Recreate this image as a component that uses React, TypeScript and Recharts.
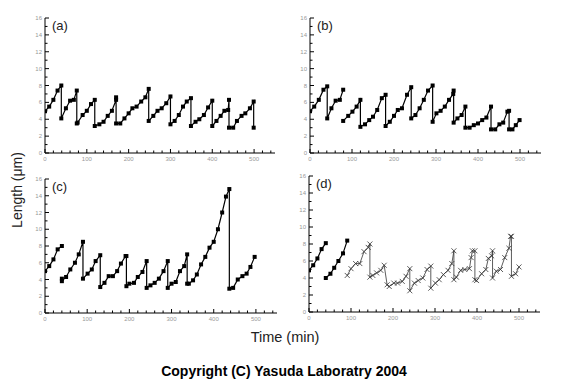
import React from "react";
import { Line, LineChart, XAxis, YAxis } from "recharts";

type Pt = [number, number];

// panel (a): one cell lineage, continuous
const lineageA: Pt[] = [
  [0, 4.95], [10, 5.5], [20, 6.3], [30, 7.4], [39, 8.0], [39, 4.1], [50, 5.3], [60, 6.2], [69, 6.3], [76, 7.4],
  [76, 3.5], [78, 3.6], [90, 4.5], [100, 5.0], [110, 5.8], [119, 6.3], [119, 3.2], [130, 3.4], [140, 3.7], [150, 4.4],
  [160, 5.0], [170, 6.3], [170, 6.6], [170, 3.5], [180, 3.5], [190, 4.1], [200, 4.7], [209, 5.3], [219, 5.5], [230, 6.1],
  [240, 6.6], [248, 7.6], [248, 3.8], [259, 4.4], [269, 5.0], [279, 5.3], [290, 5.9], [300, 6.7], [300, 3.4], [310, 3.8],
  [320, 4.5], [330, 5.5], [339, 6.1], [349, 6.5], [349, 3.2], [360, 3.7], [369, 4.0], [380, 4.5], [390, 5.4], [400, 6.2],
  [400, 3.2], [410, 3.8], [420, 4.4], [429, 5.0], [438, 5.1], [440, 6.3], [440, 3.0], [450, 3.0], [459, 3.8], [470, 4.4],
  [479, 4.7], [490, 5.3], [499, 6.1], [499, 3.0],
];

// panel (b)
const lineageB1: Pt[] = [
  [0, 4.95], [10, 5.5], [21, 6.3], [32, 7.5], [41, 7.9], [41, 4.1], [51, 5.3], [61, 6.2], [71, 6.3], [79, 7.5],
];
const lineageB2: Pt[] = [
  [79, 3.8], [91, 4.4], [101, 4.9], [111, 5.5], [120, 6.3], [120, 3.1], [131, 3.4], [141, 3.9], [150, 4.3], [160, 5.1],
  [171, 6.5], [180, 6.9], [180, 3.2], [190, 3.7], [200, 4.4], [209, 5.1], [219, 5.3], [231, 6.9], [241, 7.8], [241, 4.1],
  [251, 4.5], [261, 5.3], [271, 6.3], [281, 7.4], [292, 8.0], [292, 3.7], [301, 4.7], [311, 5.0], [321, 5.5], [331, 6.3],
  [341, 7.0], [342, 7.4], [342, 3.6], [351, 4.1], [361, 4.5], [370, 5.5], [370, 3.0], [380, 3.0], [390, 3.3], [400, 3.5],
  [410, 3.9], [420, 4.2], [431, 5.5], [431, 2.8], [441, 2.8], [451, 3.4], [460, 3.6], [470, 4.9], [474, 5.0], [474, 2.8],
  [482, 2.8], [490, 3.3], [499, 3.9],
];

// panel (c)
const lineageC1: Pt[] = [[0, 5.0], [10, 5.6], [20, 6.4], [30, 7.6], [40, 8.0]];
const lineageC2: Pt[] = [
  [40, 4.1], [40, 3.8], [50, 4.3], [60, 5.2], [71, 6.0], [80, 7.0], [90, 8.5], [90, 4.1], [101, 4.7], [111, 5.2],
  [120, 6.2], [131, 6.9], [131, 3.1], [141, 3.6], [151, 4.4], [161, 4.4], [171, 5.0], [180, 5.9], [191, 6.8], [193, 6.8],
  [193, 3.2], [200, 3.5], [211, 3.6], [220, 4.3], [231, 4.9], [241, 6.2], [241, 3.0], [250, 3.3], [260, 3.6], [270, 4.1],
  [281, 5.0], [291, 6.2], [291, 3.0], [300, 3.5], [310, 3.7], [320, 5.0], [330, 5.6], [337, 7.0], [337, 3.5], [341, 3.5],
  [351, 3.9], [360, 4.6], [370, 5.8], [380, 6.7], [390, 7.8], [400, 8.5], [410, 10.0], [420, 12.0], [429, 13.9], [437, 14.8],
  [437, 2.9], [446, 3.0], [457, 4.0], [468, 4.4], [478, 4.7], [487, 5.5], [497, 6.7],
];

// panel (d): two square-marked pieces, then the cross-marked lineage
const lineageD1: Pt[] = [[0, 4.9], [10, 5.5], [20, 6.3], [30, 7.4], [40, 8.1]];
const lineageD2: Pt[] = [[40, 4.0], [51, 4.5], [60, 5.2], [70, 6.0], [81, 6.9], [91, 8.4]];
const lineageD3: Pt[] = [
  [91, 4.3], [100, 5.1], [111, 5.7], [121, 5.7], [131, 7.1], [141, 7.6], [145, 8.0], [145, 4.1], [152, 4.3], [161, 4.6],
  [171, 4.9], [179, 5.5], [186, 3.2], [191, 3.0], [202, 3.4], [211, 3.4], [222, 3.6], [231, 4.2], [240, 5.1], [240, 2.5],
  [251, 3.4], [260, 3.7], [271, 4.0], [281, 5.0], [290, 5.4], [290, 2.8], [301, 3.4], [310, 3.8], [320, 4.4], [331, 4.9],
  [340, 5.7], [345, 7.2], [345, 3.8], [351, 4.1], [361, 4.9], [371, 5.0], [382, 5.1], [386, 6.4], [389, 7.2], [395, 7.2],
  [395, 3.8], [399, 3.7], [411, 4.5], [421, 5.0], [427, 6.3], [435, 6.6], [437, 7.2], [437, 4.0], [446, 4.8], [456, 5.0],
  [466, 6.4], [476, 7.5], [480, 8.9], [482, 8.9], [482, 4.2], [492, 4.5], [500, 5.3],
];

const xTicks = [0, 20, 40, 60, 80, 100, 120, 140, 160, 180, 200, 220, 240, 260, 280, 300, 320, 340, 360, 380, 400, 420, 440, 460, 480, 500, 520, 540];
const xLabels = [0, 100, 200, 300, 400, 500];
const yTicks = [0, 1, 2, 3, 4, 5, 6, 7, 8, 9, 10, 11, 12, 13, 14, 15, 16];
const yLabels = [0, 2, 4, 6, 8, 10, 12, 14, 16];

const FONT = "'Liberation Sans', Arial, sans-serif";

const XTick = (p: any) => {
  const { x, y, payload } = p;
  const major = xLabels.includes(payload.value);
  return (
    <g>
      <line x1={x} x2={x} y1={y} y2={y - (major ? 4 : 2.5)} stroke="#000" strokeWidth={1} />
      {major ? (
        <text x={x} y={y + 8} textAnchor="middle" fontSize={6} fill="#999" fontFamily={FONT}>
          {payload.value}
        </text>
      ) : null}
    </g>
  );
};

const YTick = (p: any) => {
  const { x, y, payload } = p;
  const major = yLabels.includes(payload.value);
  return (
    <g>
      <line x1={x} x2={x + (major ? 4 : 2.5)} y1={y} y2={y} stroke="#000" strokeWidth={1} />
      {major ? (
        <text x={x - 3} y={y + 2} textAnchor="end" fontSize={6} fill="#999" fontFamily={FONT}>
          {payload.value}
        </text>
      ) : null}
    </g>
  );
};

const square = (p: any) => (
  <rect key={p.index} x={p.cx - 2} y={p.cy - 2} width={4} height={4} fill="#000" />
);

const cross = (p: any) => (
  <path
    key={p.index}
    d={`M${p.cx - 2.5},${p.cy - 2.5}L${p.cx + 2.5},${p.cy + 2.5}M${p.cx + 2.5},${p.cy - 2.5}L${p.cx - 2.5},${p.cy + 2.5}`}
    stroke="#333"
    strokeWidth={0.8}
    fill="none"
  />
);

interface Series {
  pts: Pt[];
  marker: "square" | "cross";
}

interface PanelProps {
  left: number;
  top: number;
  plotWidth: number;
  plotHeight: number;
  label: string;
  series: Series[];
}

function Panel({ left, top, plotWidth, plotHeight, label, series }: PanelProps) {
  // plot area starts 25px right and 5px below the chart box
  const width = plotWidth + 30;
  const height = plotHeight + 20;
  return (
    <div style={{ position: "absolute", left: left - 25, top: top - 5, width, height }}>
      <LineChart width={width} height={height} margin={{ top: 5, right: 5, bottom: 0, left: 0 }}>
        <XAxis
          type="number"
          dataKey="t"
          domain={[0, 550]}
          ticks={xTicks}
          interval={0}
          height={15}
          tickSize={0}
          tickMargin={0}
          tickLine={false}
          tick={XTick}
          axisLine={{ stroke: "#000" }}
          allowDataOverflow
        />
        <YAxis
          type="number"
          domain={[0, 16]}
          ticks={yTicks}
          interval={0}
          width={25}
          tickSize={0}
          tickMargin={0}
          tickLine={false}
          tick={YTick}
          axisLine={{ stroke: "#000" }}
          allowDataOverflow
        />
        {series.map((s, i) => (
          <Line
            key={i}
            data={s.pts.map(([t, L]) => ({ t, L }))}
            dataKey="L"
            type="linear"
            stroke={s.marker === "square" ? "#000" : "#333"}
            strokeWidth={s.marker === "square" ? 1.2 : 0.8}
            dot={s.marker === "square" ? square : cross}
            activeDot={false}
            isAnimationActive={false}
          />
        ))}
      </LineChart>
      <div
        style={{
          position: "absolute",
          left: 32,
          top: 6,
          fontFamily: FONT,
          fontSize: 13,
          color: "#222",
          lineHeight: "13px",
        }}
      >
        {label}
      </div>
    </div>
  );
}

export default function App() {
  return (
    <div
      style={{
        position: "absolute",
        left: 0,
        top: 0,
        width: 566,
        height: 386,
        background: "#fff",
        fontFamily: FONT,
        overflow: "hidden",
      }}
    >
      <Panel left={45} top={18} plotWidth={230} plotHeight={135} label="(a)" series={[{ pts: lineageA, marker: "square" }]} />
      <Panel
        left={310}
        top={18}
        plotWidth={231}
        plotHeight={135}
        label="(b)"
        series={[
          { pts: lineageB1, marker: "square" },
          { pts: lineageB2, marker: "square" },
        ]}
      />
      <Panel
        left={45}
        top={179}
        plotWidth={232}
        plotHeight={134}
        label="(c)"
        series={[
          { pts: lineageC1, marker: "square" },
          { pts: lineageC2, marker: "square" },
        ]}
      />
      <Panel
        left={309}
        top={176}
        plotWidth={231}
        plotHeight={136}
        label="(d)"
        series={[
          { pts: lineageD1, marker: "square" },
          { pts: lineageD2, marker: "square" },
          { pts: lineageD3, marker: "cross" },
        ]}
      />
      <svg width={566} height={386} style={{ position: "absolute", left: 0, top: 0, pointerEvents: "none" }}>
        <text
          x={22}
          y={190}
          transform="rotate(-90 22 190)"
          textAnchor="middle"
          fontSize={14}
          fill="#222"
          fontFamily={FONT}
        >
          Length (μm)
        </text>
        <text x={285} y={342} textAnchor="middle" fontSize={14.5} fill="#222" fontFamily={FONT}>
          Time (min)
        </text>
        <text x={284} y={376} textAnchor="middle" fontSize={14} fontWeight="bold" fill="#000" fontFamily={FONT}>
          Copyright (C) Yasuda Laboratry 2004
        </text>
      </svg>
    </div>
  );
}
